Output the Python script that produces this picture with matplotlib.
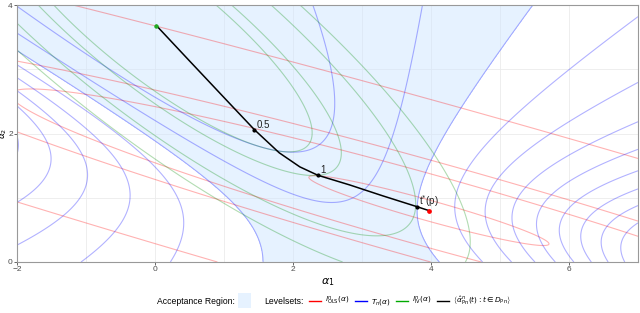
import numpy as np
import matplotlib
matplotlib.use("Agg")
import matplotlib.pyplot as plt
from matplotlib.lines import Line2D
from matplotlib.patches import Rectangle

plt.rcParams['font.family'] = ['Liberation Sans', 'DejaVu Sans']

## loss surfaces (centres, axis slope, axis ratio)
ols_center = [3.97, 0.80]
ols_slope = -0.30
ols_ratio = 130.0
ols_min = 216.0          # residual level at the OLS minimum
ols_levels = [3.3, 40.0, 75.0, 360.0]

iv_center = [0.02, 3.68]
iv_slope = -0.85
iv_ratio = 12.55
iv_levels = [8.3, 11.7, 23.0, 33.7]

test_levels = [1, 2, 3, 4, 5, 6, 7, 8, 9, 10, 11, 12]
accept_q = 3.0

## K-class path
path_a1 = [0.02, 0.50, 1.00, 1.44, 1.80, 2.10, 2.36, 2.82, 3.30, 3.80, 3.97]
path_a2 = [3.68, 3.13, 2.56, 2.06, 1.70, 1.48, 1.35, 1.20, 1.03, 0.86, 0.80]
mark_labels = ["0.5", "1", "t$^{*}$(p)"]
mark_a1 = [1.44, 2.36, 3.80]
mark_a2 = [2.06, 1.35, 0.86]


def quad(X, Y, center, slope, ratio):
  nrm = np.hypot(1.0, slope)
  e1x, e1y = 1.0/nrm, slope/nrm
  dx = X - center[0]
  dy = Y - center[1]
  u = dx*e1x + dy*e1y
  v = -dx*e1y + dy*e1x
  return u**2 + ratio*v**2


xs = np.linspace(-2, 7, 700)
ys = np.linspace(0, 4, 400)
X, Y = np.meshgrid(xs, ys)

R = quad(X, Y, ols_center, ols_slope, ols_ratio)
G = quad(X, Y, iv_center, iv_slope, iv_ratio)

# scale test statistic so that t*(p) sits on the acceptance boundary
px, py = np.array([mark_a1[-1]]), np.array([mark_a2[-1]])
g0 = quad(px, py, iv_center, iv_slope, iv_ratio)[0]
r0 = quad(px, py, ols_center, ols_slope, ols_ratio)[0]
n_scale = accept_q/(g0/(ols_min + r0))
T = n_scale*G/(ols_min + R)

fig = plt.figure(figsize=(6.4, 3.13), dpi=100)
ax = fig.add_axes([17/640, 51/313, 621/640, 257/313])

ax.set_xlim(-2, 7)
ax.set_ylim(0, 4)
ax.set_xticks([-2, 0, 2, 4, 6])
ax.set_yticks([0, 2, 4])
ax.set_xticks(np.arange(-2, 8, 1), minor=True)
ax.set_yticks(np.arange(0, 5, 1), minor=True)
ax.grid(True, which='both', color='#ebebeb', lw=0.6)
ax.set_axisbelow(True)

ax.contourf(X, Y, T, levels=[-1, accept_q], colors=['#cfe6ff'], alpha=0.5, zorder=1)

ax.contour(X, Y, R, levels=ols_levels, colors=[(1, 0, 0, 0.3)], linewidths=0.8, zorder=2)
ax.contour(X, Y, T, levels=test_levels, colors=[(0, 0, 1, 0.3)], linewidths=0.8, zorder=2)
ax.contour(X, Y, G, levels=iv_levels, colors=[(0, 0.55, 0, 0.3)], linewidths=0.8, zorder=2)

ax.plot(path_a1, path_a2, color='black', lw=1.1, zorder=3)
ax.plot(mark_a1, mark_a2, 'o', color='black', ms=2, zorder=4)
for lab, a, b in zip(mark_labels, mark_a1, mark_a2):
  ax.annotate(lab, (a, b), xytext=(1.5, 1.5), textcoords='offset points',
              fontsize=7, color='#222222', zorder=5)
ax.plot(path_a1[0], path_a2[0], 'o', color='#22aa22', ms=2.2, zorder=4)
ax.plot(path_a1[-1], path_a2[-1], 'o', color='red', ms=2.4, zorder=4)

for s in ax.spines.values():
  s.set_color('#999999')
  s.set_linewidth(0.8)
ax.tick_params(which='major', labelsize=6, colors='#4d4d4d', length=2, width=0.6, pad=1)
ax.tick_params(which='minor', length=0)
ax.set_xlabel(r"$\alpha_1$", fontsize=8, labelpad=2)
ax.set_ylabel(r"$\alpha_2$", fontsize=6.5)
ax.yaxis.set_label_coords(-0.0125, 0.5)

## legend row
fig.text(235/640, 1 - 301/313, "Acceptance Region:", fontsize=6.2, ha='right', va='center')
fig.patches.append(Rectangle((238/640, 1 - 308/313), 13/640, 15/313,
                             transform=fig.transFigure, facecolor='#e6f2ff',
                             edgecolor='none'))
fig.text(304/640, 1 - 301/313, "Levelsets:", fontsize=6.2, ha='right', va='center')
handles = [Line2D([], [], color='red', lw=1),
           Line2D([], [], color='blue', lw=1),
           Line2D([], [], color='#00aa00', lw=1),
           Line2D([], [], color='black', lw=1)]
labels = [r"$l^n_{\mathrm{OLS}}(\alpha)$", r"$T_n(\alpha)$", r"$l^n_{\mathrm{IV}}(\alpha)$",
          r"$\left\{\hat{\alpha}^n_{\mathrm{Pn}}(t) : t \in D_{\mathrm{Pn}}\right\}$"]
fig.legend(handles, labels, loc='center left', bbox_to_anchor=(306/640, 1 - 301/313),
           ncol=4, frameon=False, fontsize=5.3, handlelength=1.7, handletextpad=0.5,
           columnspacing=0.7, borderaxespad=0)

fig.savefig("out.png", dpi=100)
